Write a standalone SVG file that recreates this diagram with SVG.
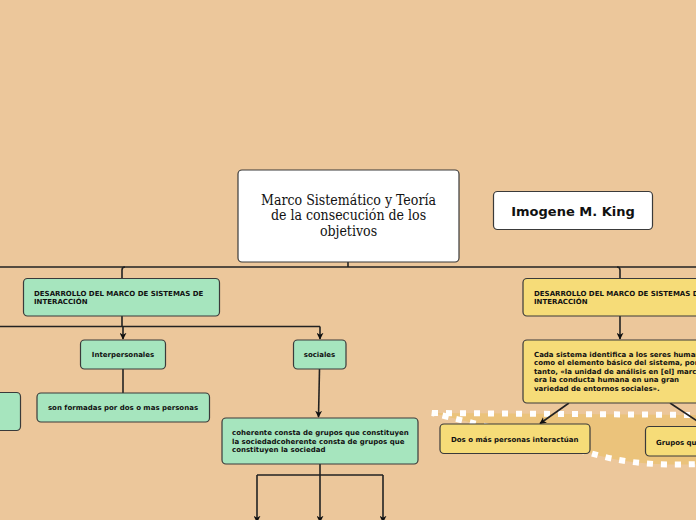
<svg xmlns="http://www.w3.org/2000/svg" width="696" height="520" viewBox="0 0 696 520">
<defs>
<marker id="ah" viewBox="0 0 10 10" refX="9" refY="5" markerWidth="7" markerHeight="7" markerUnits="userSpaceOnUse" orient="auto">
<path d="M0,0 L10,5 L0,10 L3,5 Z" fill="#111"/>
</marker>
<style>
.bg{fill:#ecc79b}
.n{stroke:#3a3a3a;stroke-width:1.2}
.w{fill:#ffffff}
.g{fill:#a6e5be}
.y{fill:#f6dc78}
.c{fill:none;stroke:#222;stroke-width:1.6}
.t{font-family:"DejaVu Sans",Verdana,sans-serif;font-weight:bold;font-size:7px;fill:#111}
.ti{font-family:"DejaVu Serif Condensed","DejaVu Serif","Liberation Serif",serif;font-size:14px;fill:#111;text-anchor:middle}
</style>
</defs>
<rect class="bg" x="0" y="0" width="696" height="520"/>

<path d="M432,413 L700,415 L700,464 C650,466 620,462 590,453 C540,440 470,422 432,413 Z" fill="#ebc37b" stroke="#ffffff" stroke-width="6" stroke-dasharray="6 8"/>

<g id="connectors">
<path class="c" d="M348,262 V267"/>
<path class="c" d="M0,267 H696"/>
<path class="c" d="M125,267 Q122,267 122,270 V278"/>
<path class="c" d="M617,267 Q620,267 620,270 V278"/>
<path class="c" d="M122,316 V326.5"/>
<path class="c" d="M0,326.5 H320"/>
<path class="c" d="M123,326.5 V339" marker-end="url(#ah)"/>
<path class="c" d="M320,326.5 V339" marker-end="url(#ah)"/>
<path class="c" d="M123,369 V393"/>
<path class="c" d="M319.5,369 Q319,395 318.5,417" marker-end="url(#ah)"/>
<path class="c" d="M320,464 V475"/>
<path class="c" d="M257,475 H383"/>
<path class="c" d="M257,475 V522" marker-end="url(#ah)"/>
<path class="c" d="M320,475 V522" marker-end="url(#ah)"/>
<path class="c" d="M383,475 V522" marker-end="url(#ah)"/>
<path class="c" d="M620,316 V339" marker-end="url(#ah)"/>
<path class="c" d="M569,403 L540,423.5" marker-end="url(#ah)"/>
<path class="c" d="M670,403 L700,423"/>
</g>

<g id="central">
<rect class="n w" x="238" y="170" width="221" height="92" rx="4"/>
<text class="ti" x="348.5" y="204.5">Marco Sistemático y Teoría</text>
<text class="ti" x="348.5" y="220">de la consecución de los</text>
<text class="ti" x="348.5" y="235.5">objetivos</text>
</g>

<g id="imogene">
<rect class="n w" x="493.5" y="191.5" width="159" height="38" rx="4"/>
<text x="573" y="215.5" text-anchor="middle" font-family="'DejaVu Sans',Verdana,sans-serif" font-weight="bold" font-size="13px" fill="#111">Imogene M. King</text>
</g>

<g id="left-desarrollo">
<rect class="n g" x="23.5" y="278.5" width="196" height="37.5" rx="4"/>
<text class="t" x="34" y="296">DESARROLLO DEL MARCO DE SISTEMAS DE</text>
<text class="t" x="34" y="304">INTERACCIÓN</text>
</g>

<g id="interpersonales">
<rect class="n g" x="80.5" y="340" width="85" height="29" rx="4"/>
<text class="t" x="123" y="357" text-anchor="middle">Interpersonales</text>
</g>

<g id="sociales">
<rect class="n g" x="293.5" y="340" width="52.5" height="29" rx="4"/>
<text class="t" x="319.5" y="357" text-anchor="middle">sociales</text>
</g>

<g id="left-partial">
<rect class="n g" x="-10" y="392.5" width="30.5" height="38" rx="4"/>
</g>

<g id="formadas">
<rect class="n g" x="37" y="393" width="172.5" height="29" rx="4"/>
<text class="t" x="123" y="410" text-anchor="middle">son formadas por dos o mas personas</text>
</g>

<g id="coherente">
<rect class="n g" x="222" y="418" width="196" height="46" rx="4"/>
<text class="t" x="232" y="435">coherente consta de grupos que constituyen</text>
<text class="t" x="232" y="443.5">la sociedadcoherente consta de grupos que</text>
<text class="t" x="232" y="452">constituyen la sociedad</text>
</g>

<g id="right-desarrollo">
<rect class="n y" x="523" y="278.5" width="190" height="37.5" rx="4"/>
<text class="t" x="534" y="296">DESARROLLO DEL MARCO DE SISTEMAS DE</text>
<text class="t" x="534" y="304">INTERACCIÓN</text>
</g>

<g id="cada-sistema">
<rect class="n y" x="523" y="340" width="190" height="63" rx="4"/>
<text class="t" x="534" y="356.5">Cada sistema identifica a los seres humanos</text>
<text class="t" x="534" y="365">como el elemento básico del sistema, por lo</text>
<text class="t" x="534" y="373.5">tanto, «la unidad de análisis en [el] marco</text>
<text class="t" x="534" y="382">era la conducta humana en una gran</text>
<text class="t" x="534" y="390.5">variedad de entornos sociales».</text>
</g>

<g id="dos-personas">
<rect class="n y" x="440" y="424" width="150" height="29.5" rx="4"/>
<text class="t" x="451" y="442">Dos o más personas interactúan</text>
</g>

<g id="grupos">
<rect class="n y" x="645.5" y="426.5" width="80" height="29.5" rx="4"/>
<text class="t" x="656" y="444.5">Grupos que</text>
</g>
</svg>
